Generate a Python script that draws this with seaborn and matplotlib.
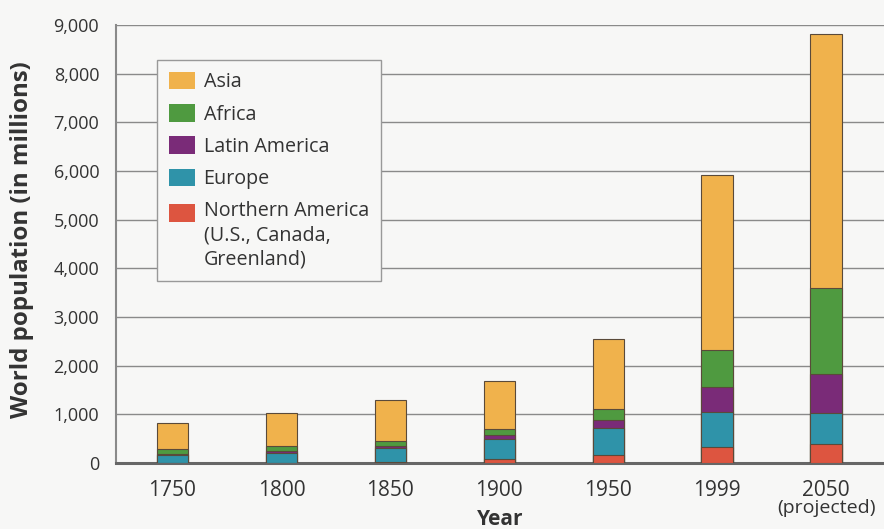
import matplotlib
matplotlib.use("Agg")
import matplotlib.pyplot as plt
from matplotlib.patches import Patch
import numpy as np
import pandas as pd
import seaborn as sns

years = ["1750", "1800", "1850", "1900", "1950", "1999", "2050"]
# population in millions
northern_america = [2, 7, 26, 82, 170, 320, 390]
europe = [165, 205, 275, 410, 550, 730, 630]
latin_america = [16, 24, 38, 74, 165, 500, 800]
africa = [105, 105, 110, 135, 225, 775, 1770]
asia = [530, 680, 840, 990, 1440, 3590, 5220]

series = [
    ("Northern America\n(U.S., Canada,\nGreenland)", northern_america, "#dd5540"),
    ("Europe", europe, "#2f93a9"),
    ("Latin America", latin_america, "#7a2b78"),
    ("Africa", africa, "#4f9a40"),
    ("Asia", asia, "#f0b24c"),
]

sns.set_style("white")
plt.rcParams["font.family"] = ["Open Sans", "DejaVu Sans"]

fig = plt.figure(figsize=(8.84, 5.29), dpi=100)
fig.patch.set_facecolor("#f7f7f6")
ax = fig.add_axes([0.131, 0.125, 0.869, 0.828])
ax.set_facecolor("#f7f7f6")

# stacked bars: draw cumulative totals from the top segment down
cum = np.cumsum([s[1] for s in series], axis=0)
for i in range(len(series) - 1, -1, -1):
    df = pd.DataFrame({"year": years, "value": cum[i]})
    sns.barplot(data=df, x="year", y="value", color=series[i][2], width=0.29,
                edgecolor="#5a4a3a", linewidth=0.8, saturation=1, ax=ax, zorder=3)

ax.set_ylim(0, 9000)
ax.set_xlim(-0.52, 6.53)
ax.set_yticks(range(0, 9001, 1000))
ax.set_yticklabels([f"{v:,}" for v in range(0, 9001, 1000)])
ax.grid(axis="y", color="#8a8a8a", linewidth=1.0, zorder=0)
ax.set_axisbelow(True)
for s in ["top", "right"]:
    ax.spines[s].set_visible(False)
ax.spines["left"].set_color("#8a8a8a")
ax.spines["left"].set_linewidth(1.5)
ax.spines["bottom"].set_color("#666666")
ax.spines["bottom"].set_linewidth(2.2)
ax.tick_params(axis="y", labelsize=13, colors="#333333", length=0, pad=12)
ax.tick_params(axis="x", labelsize=15, colors="#333333", length=0, pad=12)

ax.set_xlabel("Year", fontsize=15, fontweight="bold", color="#333333", labelpad=6)
ax.set_ylabel("World population (in millions)", fontsize=17.3, fontweight="bold",
              color="#333333")
ax.yaxis.set_label_coords(-0.106, 0.51)
ax.text(6, -750, "(projected)", ha="center", va="top", fontsize=14, color="#333333")

handles = [Patch(facecolor=c, edgecolor="none") for _, _, c in series[::-1]]
labels = [n for n, _, _ in series[::-1]]
leg = ax.legend(handles, labels, loc="upper left", bbox_to_anchor=(0.041, 0.943),
                fontsize=14.2, frameon=True, fancybox=False, edgecolor="#999999",
                facecolor="#f7f7f6", framealpha=1, handlelength=1.3, handleheight=1.0,
                handletextpad=0.45, labelspacing=0.6, borderpad=0.6)
leg.get_frame().set_linewidth(1.0)
for t in leg.get_texts():
    t.set_color("#333333")
    t.set_linespacing(1.27)
leg.set_zorder(5)
# align the multi-line entry's swatch with its first line
na_handle = leg.legend_handles[-1]
na_handle.set_y(na_handle.get_y() + 16.6)

fig.savefig("out.png", dpi=100, facecolor=fig.get_facecolor())
